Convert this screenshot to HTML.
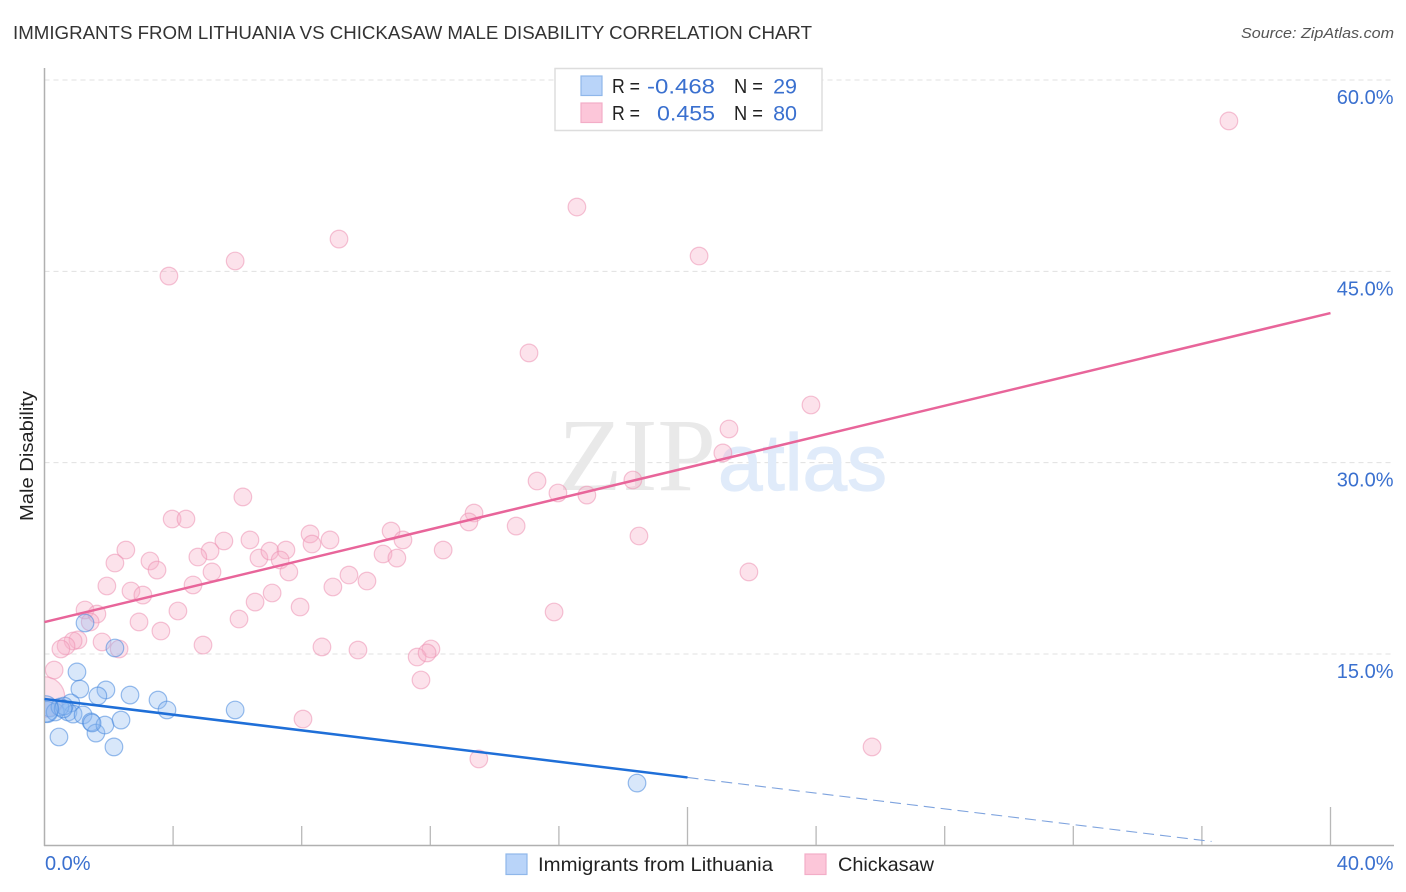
<!DOCTYPE html>
<html lang="en">
<head>
<meta charset="utf-8">
<title>Immigrants from Lithuania vs Chickasaw Male Disability Correlation Chart</title>
<style>
html,body{margin:0;padding:0;background:#fff;}
svg{display:block;font-family:"Liberation Sans",sans-serif;}
</style>
</head>
<body>
<svg id="chart" xmlns="http://www.w3.org/2000/svg" width="1406" height="892" viewBox="0 0 1406 892">
  <rect x="0" y="0" width="1406" height="892" fill="#ffffff"/>
  <text x="13" y="39" font-size="18.5" fill="#333333" textLength="799" lengthAdjust="spacingAndGlyphs">IMMIGRANTS FROM LITHUANIA VS CHICKASAW MALE DISABILITY CORRELATION CHART</text>
  <text x="1394" y="38" font-size="15" font-style="italic" fill="#555555" text-anchor="end" textLength="153" lengthAdjust="spacingAndGlyphs">Source: ZipAtlas.com</text>

  <g id="grid"></g>

  <g>
    <text x="558" y="490" font-family="'Liberation Serif',serif" font-size="104" fill="#e9e9e9" textLength="158" lengthAdjust="spacingAndGlyphs">ZIP</text>
    <text x="718" y="490" font-size="80" fill="#e0ebfa" stroke="#e0ebfa" stroke-width="1.2" textLength="169" lengthAdjust="spacingAndGlyphs">atlas</text>
  </g>

  <g id="axes"></g>
  <g id="points"></g>
  <g id="trends"></g>
  <g id="tick-labels"></g>

  <text transform="translate(33,456) rotate(-90)" font-size="18" fill="#222222" text-anchor="middle" textLength="130" lengthAdjust="spacingAndGlyphs">Male Disability</text>

  <g>
    <rect x="555" y="68.5" width="267" height="62" fill="#ffffff" stroke="#dddddd" stroke-width="1.5"/>
    <rect x="581" y="76" width="21" height="19.5" fill="#b9d4f9" stroke="#8fb7ea" stroke-width="1.2"/>
    <rect x="581" y="103" width="21" height="19.5" fill="#fcc6d9" stroke="#f3adc7" stroke-width="1.2"/>
    <g font-size="20.5" fill="#222222">
      <text x="612" y="93" textLength="28" lengthAdjust="spacingAndGlyphs">R =</text>
      <text x="734" y="93" textLength="29" lengthAdjust="spacingAndGlyphs">N =</text>
      <text x="612" y="120" textLength="28" lengthAdjust="spacingAndGlyphs">R =</text>
      <text x="734" y="120" textLength="29" lengthAdjust="spacingAndGlyphs">N =</text>
    </g>
    <g font-size="21.5" fill="#3a70cf" text-anchor="end">
      <text x="715" y="93.5" textLength="68" lengthAdjust="spacingAndGlyphs">-0.468</text>
      <text x="797" y="93.5">29</text>
      <text x="715" y="120.5" textLength="58" lengthAdjust="spacingAndGlyphs">0.455</text>
      <text x="797" y="120.5">80</text>
    </g>
  </g>

  <g>
    <rect x="506" y="854" width="21" height="20.5" fill="#b9d4f9" stroke="#8fb7ea" stroke-width="1.2"/>
    <text x="538" y="871" font-size="19.5" fill="#222222" textLength="235" lengthAdjust="spacingAndGlyphs">Immigrants from Lithuania</text>
    <rect x="805" y="854" width="21" height="20.5" fill="#fcc6d9" stroke="#f3adc7" stroke-width="1.2"/>
    <text x="838" y="871" font-size="19.5" fill="#222222" textLength="96" lengthAdjust="spacingAndGlyphs">Chickasaw</text>
  </g>
</svg>

<script>
const xTickValues = [4,8,12,16,20,24,28,32,36,40];
const xMajorTicks = [20,40];
const xTickLabels = [[0,'0.0%'],[40,'40.0%']];
const yTickValues = [15,30,45,60];
const yTickLabels = ['15.0%','30.0%','45.0%','60.0%'];

const pinkX = [36.84,16.56,9.16,5.93,3.87,20.36,15.07,23.84,21.29,21.10,15.32,18.30,15.97,16.87,6.17,3.97,4.40,13.36,13.20,14.67,10.78,18.49,8.26,8.88,8.32,11.15,5.58,6.39,2.53,5.15,4.77,3.28,2.19,3.50,6.67,7.01,7.51,7.33,7.60,10.53,10.96,12.40,9.47,10.03,5.21,1.94,4.62,2.69,3.06,8.97,7.08,6.55,1.26,1.63,1.42,4.15,7.95,2.94,6.05,15.85,21.91,3.62,1.04,0.89,0.67,0.51,1.79,2.32,4.93,8.63,9.75,12.02,11.59,11.90,0.30,11.71,0,8.04,13.51,25.74];
const pinkY = [56.79,50.04,47.53,45.81,44.63,46.20,38.60,34.52,32.64,30.76,28.56,28.64,27.62,27.46,27.31,25.58,25.58,26.05,25.35,25.03,24.64,24.25,24.41,23.94,23.62,23.94,23.86,23.94,23.15,23.07,22.60,22.29,22.13,21.58,22.52,23.07,23.15,22.37,21.43,22.84,22.52,23.15,21.19,20.72,21.43,20.33,20.41,19.94,19.62,20.25,19.78,19.07,18.45,18.13,17.51,18.37,18.68,17.51,17.74,18.29,21.43,16.80,16.10,16.02,15.63,15.39,15.94,15.39,15.70,15.55,15.31,15.39,14.76,15.08,13.74,12.96,11.63,9.90,6.77,7.71];
const pinkSizes = {76:2.3};

const blueX = [1.26,2.19,1.01,1.10,1.91,1.66,2.66,3.53,3.81,5.93,0.82,0.73,0.89,1.20,1.45,1.60,1.88,2.38,0.45,2.16,18.43,0.17,0.08,0.33,0.48,0.61,0.58,0.02,1.48];
const blueY = [17.43,15.47,13.59,12.25,12.18,11.71,11.78,11.39,10.61,10.61,11.16,10.45,10.29,10.22,9.67,8.80,9.43,9.82,8.49,7.71,4.88,10.76,10.45,10.45,10.84,10.92,10.69,10.69,9.59];
const blueSizes = {27:1.5,22:1.2};

const pinkTrendIntercept = 17.5;
const pinkTrendEnd = 41.73;
const blueTrendIntercept = 11.47;
const blueTrendSolidEndX = 20;
const blueTrendSolidEndY = 5.32;
const blueTrendDashEndX = 36.3;
const blueTrendDashEndY = 0.3;

const NS = 'http://www.w3.org/2000/svg';
function xScale(v){ return 44.5 + v * 32.15; }
function yScale(v){ return 845.3 - v * 12.755; }
function make(tag, parent, attrs){
  const el = document.createElementNS(NS, tag);
  for (const k in attrs) el.setAttribute(k, attrs[k]);
  parent.appendChild(el);
  return el;
}

const gridG = document.getElementById('grid');
yTickValues.forEach(function(v){
  const y = yScale(v);
  const line = make('line', gridG, {x1:44.5, x2:1394, y1:y, y2:y, stroke:'#e0e0e0', 'stroke-width':1, 'stroke-dasharray':'5 4'});
  
  
});

const axesG = document.getElementById('axes');
const yAxis = make('line', axesG, {x1:44.5, x2:44.5, y1:68, y2:846, stroke:'#b0b0b0', 'stroke-width':1.5});


const xAxis = make('line', axesG, {x1:44, x2:1394, y1:845.5, y2:845.5, stroke:'#b0b0b0', 'stroke-width':1.5});


xTickValues.forEach(function(v){
  const x = xScale(v);
  const top = xMajorTicks.indexOf(v) >= 0 ? 807 : 826;
  const tick = make('line', axesG, {x1:x, x2:x, y1:top, y2:845, stroke:'#b8b8b8', 'stroke-width':1.3});
  
  
});

const clip = make('clipPath', document.getElementById('chart'), {id:'plot-clip'});
make('rect', clip, {x:45, y:60, width:1350, height:786});

const pointsG = document.getElementById('points');
pointsG.setAttribute('clip-path', 'url(#plot-clip)');
pinkX.forEach(function(v, i){
  const c = make('circle', pointsG, {cx:xScale(v), cy:yScale(pinkY[i]), r:8.8*(pinkSizes[i]||1), fill:'rgba(248,175,200,0.36)', stroke:'rgba(236,145,178,0.55)', 'stroke-width':1.2});
  
  
});
blueX.forEach(function(v, i){
  const c = make('circle', pointsG, {cx:xScale(v), cy:yScale(blueY[i]), r:8.8*(blueSizes[i]||1), fill:'rgba(140,185,240,0.34)', stroke:'rgba(70,135,220,0.55)', 'stroke-width':1.2});
  
  
});

const trendsG = document.getElementById('trends');
const pinkLine = make('line', trendsG, {x1:xScale(0), y1:yScale(pinkTrendIntercept), x2:xScale(40), y2:yScale(pinkTrendEnd), stroke:'#e8659a', 'stroke-width':2.5});


const blueLine = make('line', trendsG, {x1:xScale(0), y1:yScale(blueTrendIntercept), x2:xScale(blueTrendSolidEndX), y2:yScale(blueTrendSolidEndY), stroke:'#1f6fd8', 'stroke-width':2.5});


const blueDash = make('line', trendsG, {x1:xScale(blueTrendSolidEndX), y1:yScale(blueTrendSolidEndY), x2:xScale(blueTrendDashEndX), y2:yScale(blueTrendDashEndY), stroke:'#7ea3de', 'stroke-width':1.1, 'stroke-dasharray':'11 6'});



const labelsG = document.getElementById('tick-labels');
yTickValues.forEach(function(v, i){
  const t = make('text', labelsG, {x:1393.5, y:yScale(v)+24, 'font-size':20, fill:'#3a70cf', 'text-anchor':'end'});
  t.textContent = yTickLabels[i];
  
  
});
xTickLabels.forEach(function(pair){
  const isFirst = pair[0] === 0;
  const t = make('text', labelsG, {x:isFirst ? xScale(pair[0])+0.5 : 1393.5, y:870, 'font-size':20, fill:'#3a70cf', 'text-anchor':isFirst ? 'start' : 'end'});
  t.textContent = pair[1];
  
  
});
</script>
</body>
</html>
